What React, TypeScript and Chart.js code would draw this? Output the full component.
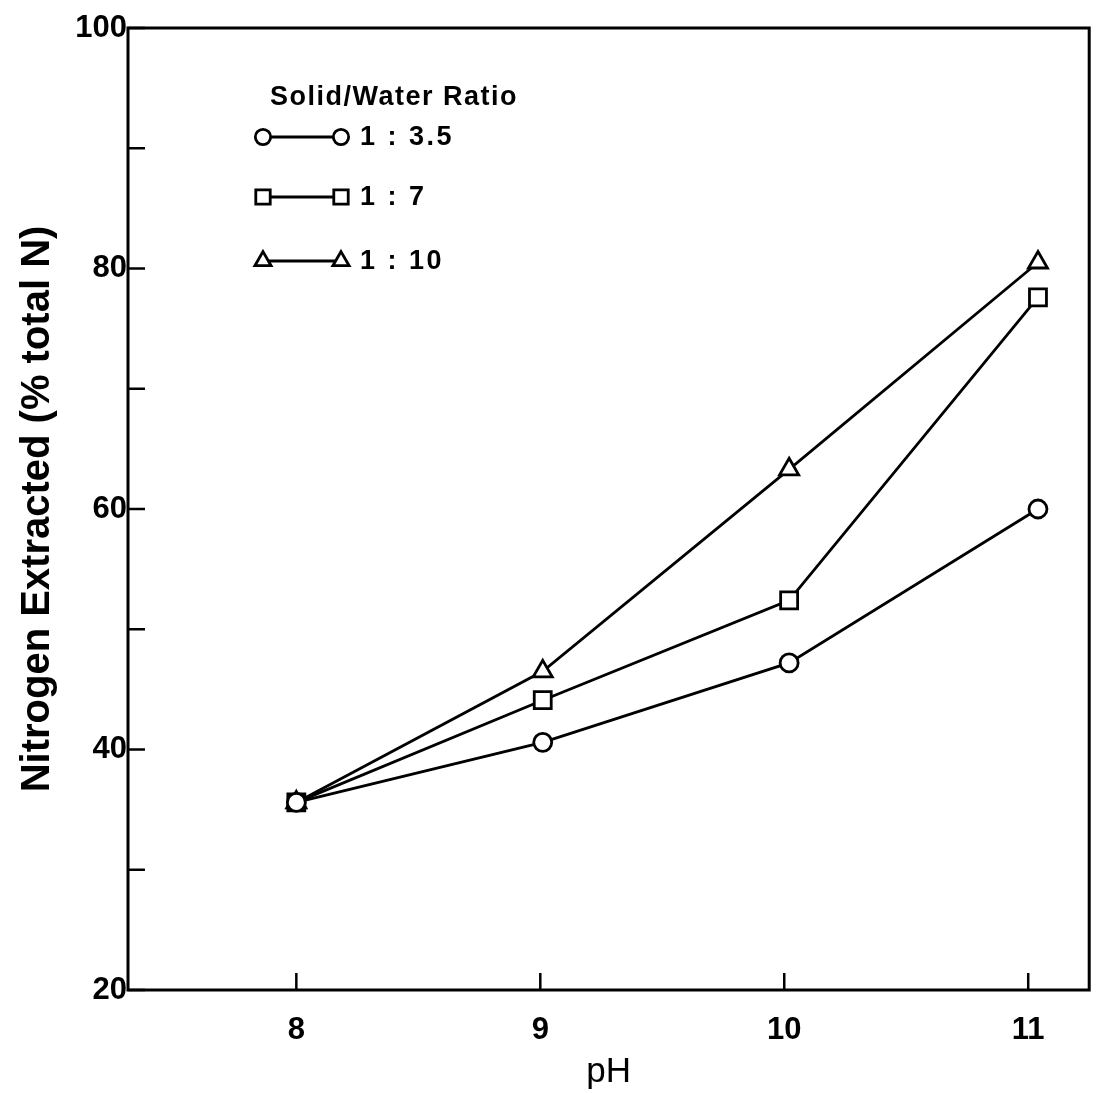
import React, { useEffect, useRef } from "react";
import { Chart, registerables } from "chart.js";

Chart.register(...registerables);

const phValues = [8, 9.01, 10.02, 11.04];
const ratio35 = [35.6, 40.6, 47.2, 60.0];
const ratio7 = [35.6, 44.1, 52.4, 77.6];
const ratio10 = [35.6, 46.5, 63.3, 80.5];
const seriesLabels = ["1 : 3.5", "1 : 7", "1 : 10"];
const seriesMarkers = ["circle", "rect", "triangle"];
const xTickValues = [8, 9, 10, 11];
const yTickValues = [20, 30, 40, 50, 60, 70, 80, 90, 100];
const yLabelled = [20, 40, 60, 80, 100];
const legendTitle = "Solid/Water Ratio";

const FONT = "'Liberation Sans', Arial, sans-serif";

function toPoints(ys: number[]) {
  return ys.map((y, i) => ({ x: phValues[i], y }));
}

function drawMarker(ctx: CanvasRenderingContext2D, style: string, r: number, x: number, y: number) {
  ctx.beginPath();
  if (style === "circle") {
    ctx.arc(x, y, r, 0, Math.PI * 2);
  } else if (style === "rect") {
    const s = Math.SQRT1_2 * r;
    ctx.rect(x - s, y - s, 2 * s, 2 * s);
  } else {
    const h = r * 1.5;
    const half = (r * Math.sqrt(3)) / 2;
    ctx.moveTo(x, y - r);
    ctx.lineTo(x + half, y - r + h);
    ctx.lineTo(x - half, y - r + h);
    ctx.closePath();
  }
  ctx.fill();
  ctx.stroke();
}

const framePlugin = {
  id: "frameAndTicks",
  afterDraw(chart: any) {
    const { ctx, chartArea } = chart;
    const { left, right, top, bottom } = chartArea;
    ctx.save();
    ctx.strokeStyle = "#000";
    ctx.lineWidth = 3;
    ctx.strokeRect(left, top, right - left, bottom - top);
    ctx.lineWidth = 2.5;
    const ys = chart.scales.y;
    yTickValues.forEach((v) => {
      const py = ys.getPixelForValue(v);
      ctx.beginPath();
      ctx.moveTo(left, py);
      ctx.lineTo(left + 17, py);
      ctx.stroke();
    });
    const xs = chart.scales.x;
    xTickValues.forEach((v) => {
      const px = xs.getPixelForValue(v);
      ctx.beginPath();
      ctx.moveTo(px, bottom);
      ctx.lineTo(px, bottom - 17);
      ctx.stroke();
    });
    ctx.restore();
  },
};

const legendPlugin = {
  id: "customLegend",
  afterDraw(chart: any) {
    const { ctx } = chart;
    ctx.save();
    ctx.fillStyle = "#000";
    ctx.textBaseline = "middle";
    ctx.textAlign = "left";
    (ctx as any).letterSpacing = "1.5px";
    ctx.font = `bold 27px ${FONT}`;
    ctx.fillText(legendTitle, 270, 98);
    const rowY = [137, 197, 261];
    chart.data.datasets.forEach((ds: any, i: number) => {
      const y = rowY[i];
      const x1 = 263;
      const x2 = 341;
      ctx.strokeStyle = "#000";
      ctx.lineWidth = 2.8;
      ctx.beginPath();
      ctx.moveTo(x1, y);
      ctx.lineTo(x2, y);
      ctx.stroke();
      [x1, x2].forEach((x) => {
        ctx.fillStyle = "#fff";
        ctx.strokeStyle = "#000";
        ctx.lineWidth = ds.pointBorderWidth;
        drawMarker(ctx, ds.pointStyle, ds.pointRadius * 0.85, x, y);
      });
      ctx.fillStyle = "#000";
      (ctx as any).letterSpacing = "2.5px";
      ctx.font = `bold 27px ${FONT}`;
      ctx.fillText(seriesLabels[i], 360, y + 1);
    });
    ctx.restore();
  },
};

export default function App() {
  const ref = useRef<HTMLCanvasElement | null>(null);
  useEffect(() => {
    if (!ref.current) return;
    const make = (label: string, ys: number[], marker: string, radius: number) => ({
      label,
      data: toPoints(ys),
      borderColor: "#000",
      borderWidth: 2.8,
      backgroundColor: "#fff",
      pointStyle: marker,
      pointRadius: radius,
      pointBorderWidth: 2.8,
      pointBorderColor: "#000",
      pointBackgroundColor: "#fff",
      showLine: true,
      tension: 0,
    });
    const chart = new Chart(ref.current, {
      type: "scatter",
      data: {
        datasets: [
          make(seriesLabels[0], ratio35, seriesMarkers[0], 9),
          make(seriesLabels[1], ratio7, seriesMarkers[1], 12),
          make(seriesLabels[2], ratio10, seriesMarkers[2], 11),
        ] as any,
      },
      options: {
        animation: false,
        responsive: false,
        maintainAspectRatio: false,
        layout: { padding: { top: 28, right: 7, left: 0, bottom: 0 } },
        plugins: { legend: { display: false }, tooltip: { enabled: false } },
        scales: {
          x: {
            type: "linear",
            min: 7.31,
            max: 11.25,
            afterBuildTicks: (s: any) => {
              s.ticks = xTickValues.map((v) => ({ value: v }));
            },
            afterFit: (s: any) => {
              s.height = 103;
            },
            grid: { display: false, drawTicks: false },
            border: { display: false },
            ticks: {
              color: "#000",
              padding: 22,
              font: { family: FONT, size: 31, weight: "bold" },
              autoSkip: false,
              maxRotation: 0,
            },
            title: {
              display: true,
              text: "pH",
              color: "#000",
              font: { family: FONT, size: 35 },
              padding: { top: 0, bottom: 0 },
            },
          },
          y: {
            type: "linear",
            min: 20,
            max: 100,
            afterBuildTicks: (s: any) => {
              s.ticks = yTickValues.map((v) => ({ value: v }));
            },
            afterFit: (s: any) => {
              s.width = 128;
            },
            grid: { display: false, drawTicks: false },
            border: { display: false },
            ticks: {
              color: "#000",
              padding: 1,
              font: { family: FONT, size: 31, weight: "bold" },
              callback: (v: any) => (yLabelled.includes(Number(v)) ? String(v) : ""),
            },
            title: {
              display: true,
              text: "Nitrogen Extracted (% total N)",
              color: "#000",
              font: { family: FONT, size: 40, weight: "bold" },
              padding: { top: 14, bottom: 0 },
            },
          },
        },
      } as any,
      plugins: [framePlugin, legendPlugin],
    });
    return () => chart.destroy();
  }, []);
  return (
    <div style={{ position: "fixed", left: 0, top: 0, width: 1104, height: 1093, background: "#fff" }}>
      <canvas ref={ref} width={1104} height={1093} style={{ width: 1104, height: 1093 }} />
    </div>
  );
}
